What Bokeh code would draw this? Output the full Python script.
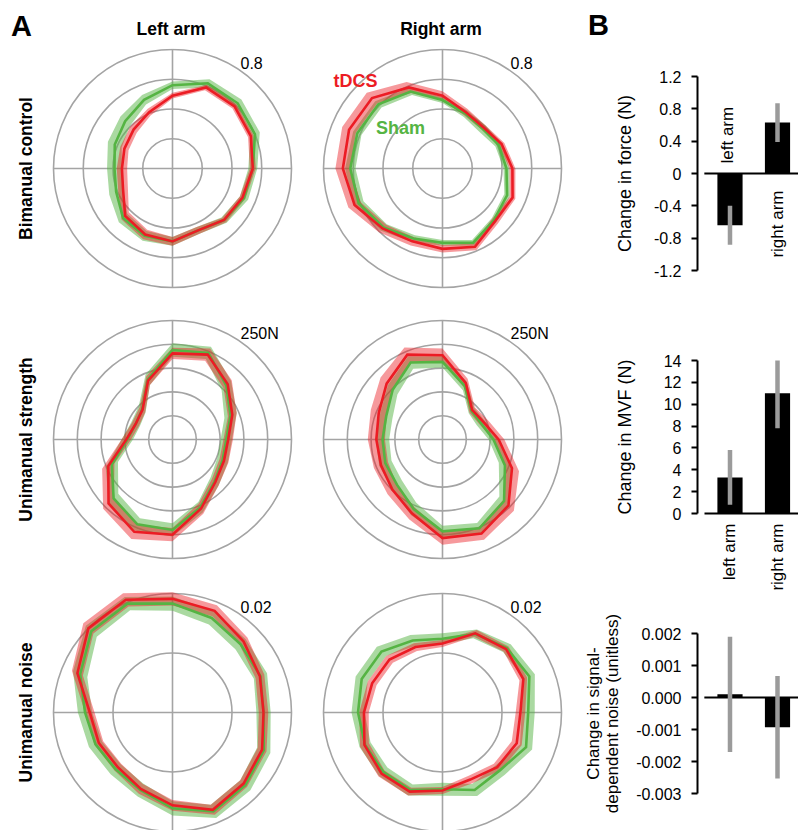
import numpy as np
from bokeh.plotting import figure
from bokeh.layouts import row, column
from bokeh.models import Range1d, FixedTicker
from bokeh.core.properties import value
from bokeh.embed import file_html
from bokeh.resources import INLINE

# ---------------- data ----------------
directions = [0, 22.5, 45, 67.5, 90, 112.5, 135, 157.5,
              180, 202.5, 225, 247.5, 270, 292.5, 315, 337.5]

arms = ["Left arm", "Right arm"]
tasks = ["Bimanual control", "Unimanual strength", "Unimanual noise"]
conditions = ["tDCS", "Sham"]
panel_letters = ["A", "B"]

rings_bimanual = [0.2, 0.4, 0.6, 0.8]
rings_strength = [50, 100, 150, 200, 250]
rings_noise = [0.01, 0.02]
ring_labels = ["0.8", "250N", "0.02"]

# Bimanual control (force, N)
bc_left_tdcs = [0.54, 0.57, 0.59, 0.59, 0.49, 0.41, 0.37, 0.35, 0.34, 0.36, 0.45, 0.48, 0.49, 0.45, 0.49, 0.51]
bc_left_tdcs_sem = [0.02, 0.02, 0.02, 0.02, 0.02, 0.025, 0.03, 0.03, 0.035, 0.035, 0.035, 0.035, 0.03, 0.025, 0.02, 0.02]
bc_left_sham = [0.54, 0.60, 0.62, 0.62, 0.56, 0.50, 0.45, 0.42, 0.39, 0.41, 0.47, 0.49, 0.49, 0.45, 0.49, 0.52]
bc_left_sham_sem = [0.03, 0.035, 0.035, 0.03, 0.025, 0.035, 0.045, 0.05, 0.05, 0.05, 0.04, 0.035, 0.03, 0.025, 0.025, 0.03]

bc_right_tdcs = [0.47, 0.43, 0.39, 0.41, 0.49, 0.59, 0.67, 0.68, 0.67, 0.64, 0.57, 0.53, 0.54, 0.57, 0.50, 0.51]
bc_right_tdcs_sem = [0.02, 0.02, 0.02, 0.025, 0.03, 0.04, 0.05, 0.05, 0.05, 0.045, 0.035, 0.03, 0.025, 0.025, 0.025, 0.02]
bc_right_sham = [0.43, 0.41, 0.38, 0.40, 0.46, 0.56, 0.61, 0.62, 0.62, 0.61, 0.56, 0.51, 0.50, 0.54, 0.49, 0.47]
bc_right_sham_sem = [0.02, 0.025, 0.03, 0.025, 0.02, 0.025, 0.03, 0.03, 0.035, 0.035, 0.03, 0.025, 0.02, 0.02, 0.02, 0.02]

# Unimanual strength (N)
us_left_tdcs = [117, 136, 164, 193, 181, 134, 89, 84, 97, 146, 190, 210, 200, 157, 127, 117]
us_left_tdcs_sem = [10, 10, 12, 14, 12, 10, 8, 8, 10, 14, 16, 16, 14, 12, 10, 10]
us_left_sham = [113, 132, 160, 197, 188, 136, 90, 84, 95, 138, 175, 193, 190, 154, 125, 114]
us_left_sham_sem = [12, 14, 14, 14, 14, 12, 10, 10, 12, 14, 14, 14, 14, 12, 12, 12]

us_right_tdcs = [118, 94, 88, 128, 177, 193, 166, 145, 139, 140, 149, 168, 207, 214, 196, 158]
us_right_tdcs_sem = [12, 10, 8, 10, 14, 16, 18, 18, 18, 16, 14, 14, 14, 14, 16, 16]
us_right_sham = [107, 88, 86, 122, 163, 175, 148, 128, 126, 130, 135, 158, 193, 202, 183, 142]
us_right_sham_sem = [10, 10, 8, 10, 12, 14, 14, 14, 14, 14, 14, 14, 12, 12, 14, 14]

# Unimanual noise
un_left_tdcs = [0.0153, 0.0159, 0.0169, 0.0185, 0.0191, 0.0205, 0.0200, 0.0173, 0.0139, 0.0134, 0.0130, 0.0139, 0.0156, 0.0177, 0.0169, 0.0163]
un_left_tdcs_sem = [0.0008, 0.0008, 0.0009, 0.0010, 0.0011, 0.0012, 0.0012, 0.0010, 0.0008, 0.0008, 0.0008, 0.0009, 0.0009, 0.0009, 0.0008, 0.0008]
un_left_sham = [0.0153, 0.0160, 0.0162, 0.0172, 0.0183, 0.0198, 0.0193, 0.0168, 0.0147, 0.0140, 0.0135, 0.0141, 0.0161, 0.0180, 0.0173, 0.0166]
un_left_sham_sem = [0.0012, 0.0012, 0.0012, 0.0012, 0.0012, 0.0012, 0.0013, 0.0013, 0.0012, 0.0012, 0.0012, 0.0012, 0.0012, 0.0012, 0.0012, 0.0012]

un_right_tdcs = [0.0131, 0.0147, 0.0151, 0.0144, 0.0116, 0.0119, 0.0126, 0.0128, 0.0132, 0.0142, 0.0145, 0.0144, 0.0131, 0.0122, 0.0130, 0.0135]
un_right_tdcs_sem = [0.0008, 0.0007, 0.0006, 0.0006, 0.0006, 0.0007, 0.0008, 0.0008, 0.0008, 0.0008, 0.0007, 0.0007, 0.0006, 0.0007, 0.0008, 0.0009]
un_right_sham = [0.0144, 0.0158, 0.0153, 0.0143, 0.0124, 0.0131, 0.0145, 0.0147, 0.0142, 0.0141, 0.0141, 0.0141, 0.0129, 0.0141, 0.0137, 0.0152]
un_right_sham_sem = [0.0011, 0.0010, 0.0009, 0.0008, 0.0009, 0.0010, 0.0011, 0.0011, 0.0011, 0.0010, 0.0010, 0.0010, 0.0011, 0.0011, 0.0011, 0.0011]

# Panel B
bar_categories = ["left arm", "right arm"]
force_change = [-0.64, 0.63]
force_err = [0.24, 0.24]
force_ticks = [-1.2, -0.8, -0.4, 0, 0.4, 0.8, 1.2]
force_tick_labels = ["-1.2", "-0.8", "-0.4", "0", "0.4", "0.8", "1.2"]

mvf_change = [3.3, 11.0]
mvf_err = [2.5, 3.2]
mvf_ticks = [0, 2, 4, 6, 8, 10, 12, 14]
mvf_tick_labels = ["0", "2", "4", "6", "8", "10", "12", "14"]

noise_change = [0.0001, -0.00093]
noise_err = [0.0018, 0.0016]
noise_ticks = [-0.003, -0.002, -0.001, 0.0, 0.001, 0.002]
noise_tick_labels = ["-0.003", "-0.002", "-0.001", "0.000", "0.001", "0.002"]

# ---------------- style / layout ----------------
FONT = "Liberation Sans"
GRID = "#a4a4a4"
RED = "#ec1c24"
GREEN = "#55b443"
ERR = "#9b9b9b"
PX_OUTER = 119                       # pixel radius of the outermost ring
HDR_H = 48                           # header strip height
COL_LR = [(172, 135), (135, 135)]    # px left / right of polar centre
ROW_TB = [(120, 135), (136, 136), (137, 118)]  # px above / below centre
BAR_W = 221
TOTAL_W = sum(l + r for l, r in COL_LR) + BAR_W
BAR_XR = (-0.684, 1.442)
ZERO_X0 = -0.54


def closed(v):
    return list(v) + [v[0]]


def polar_panel(rings, ring_label, tdcs, tdcs_sem, sham, sham_sem, col, r_i):
    left, right = COL_LR[col]
    top, bottom = ROW_TB[r_i]
    R = rings[-1]
    u = R / PX_OUTER
    p = figure(width=left + right, height=top + bottom,
               x_range=Range1d(-left * u, right * u),
               y_range=Range1d(-bottom * u, top * u),
               output_backend="svg", toolbar_location=None,
               x_axis_location=None, y_axis_location=None, min_border=0)
    p.grid.grid_line_color = None
    p.outline_line_color = None

    # polar grid
    p.circle(x=[0] * len(rings), y=[0] * len(rings), radius=rings,
             fill_color=None, line_color=GRID, line_width=1.6)
    p.segment(x0=[-R, 0], y0=[0, -R], x1=[R, 0], y1=[0, R],
              line_color=GRID, line_width=1.6)

    th = np.deg2rad(directions)
    for mean, sem, color, alpha in [(sham, sham_sem, GREEN, 0.5),
                                    (tdcs, tdcs_sem, RED, 0.45)]:
        m = np.asarray(mean, float)
        s = np.asarray(sem, float)
        ro, ri = m + s, m - s
        ox, oy = list(ro * np.cos(th)), list(ro * np.sin(th))
        ix, iy = list((ri * np.cos(th))[::-1]), list((ri * np.sin(th))[::-1])
        p.multi_polygons(xs=[[[ox, ix]]], ys=[[[oy, iy]]],
                         fill_color=color, fill_alpha=alpha, line_color=None)
    thc = np.deg2rad(closed(directions))
    for mean, color in [(sham, GREEN), (tdcs, RED)]:
        m = np.asarray(closed(mean), float)
        p.line(m * np.cos(thc), m * np.sin(thc), line_color=color,
               line_width=2.6, line_join="miter")

    p.text(x=[68 * u], y=[106 * u], text=[ring_label],
           text_font=value(FONT), text_font_size="16px",
           text_align="left", text_baseline="middle", text_color="black")

    if col == 0:
        p.text(x=[-146.5 * u], y=[0], text=[tasks[r_i]], angle=np.pi / 2,
               text_font=value(FONT), text_font_size="17.5px",
               text_font_style="bold", text_align="center",
               text_baseline="middle", text_color="black")
    if r_i == 0 and col == 1:
        p.text(x=[-87 * u, -42 * u], y=[88 * u, 41 * u], text=conditions,
               text_font=value(FONT), text_font_size="18px",
               text_font_style="bold", text_align="center",
               text_baseline="middle", text_color=[RED, GREEN])
    return p


def style_yaxis(p, ticks, tick_labels, label, label_size, standoff):
    ax = p.yaxis[0]
    ax.ticker = FixedTicker(ticks=ticks)
    ax.major_label_overrides = dict(zip(ticks, tick_labels))
    ax.axis_label = label
    ax.axis_label_text_font = FONT
    ax.axis_label_text_font_size = label_size
    ax.axis_label_text_font_style = "normal"
    ax.axis_label_text_color = "black"
    ax.axis_label_text_line_height = 1.0
    ax.axis_label_standoff = standoff
    ax.major_label_text_font = FONT
    ax.major_label_text_font_size = "16px"
    ax.major_label_text_color = "black"
    ax.major_label_standoff = 10
    ax.major_tick_out = 6
    ax.major_tick_in = 0
    ax.major_tick_line_width = 2
    ax.major_tick_line_color = "black"
    ax.minor_tick_out = 0
    ax.minor_tick_in = 0
    ax.axis_line_width = 2
    ax.axis_line_color = "black"


def bar_panel(values, errs, ticks, tick_labels, label, label_size, standoff,
              height, b_top, b_bottom, cat_mode):
    cats_on_axis = cat_mode == "axis"
    p = figure(width=BAR_W, height=height,
               x_range=Range1d(*BAR_XR), y_range=Range1d(ticks[0], ticks[-1]),
               output_backend="svg", toolbar_location=None,
               x_axis_location="below" if cats_on_axis else None,
               min_border_left=120, min_border_right=0,
               min_border_top=b_top, min_border_bottom=b_bottom)
    p.grid.grid_line_color = None
    p.outline_line_color = None
    idx = list(range(len(values)))
    if not cats_on_axis:
        p.segment(x0=[ZERO_X0], y0=[0], x1=[BAR_XR[1]], y1=[0],
                  line_color="black", line_width=2)
    p.vbar(x=idx, top=values, bottom=0, width=0.53,
           fill_color="black", line_color=None)
    lo = [v - e for v, e in zip(values, errs)]
    hi = [v + e for v, e in zip(values, errs)]
    p.segment(x0=idx, y0=lo, x1=idx, y1=hi, line_color=ERR,
              line_width=4.5, line_cap="butt")
    style_yaxis(p, ticks, tick_labels, label, label_size, standoff)
    if cats_on_axis:
        xa = p.xaxis[0]
        xa.ticker = FixedTicker(ticks=idx)
        xa.major_label_overrides = dict(zip(idx, bar_categories))
        xa.major_label_orientation = np.pi / 2
        xa.major_label_standoff = 10
        xa.major_label_text_font = FONT
        xa.major_label_text_font_size = "17px"
        xa.major_label_text_color = "black"
        xa.major_tick_out = 0
        xa.major_tick_in = 0
        xa.minor_tick_out = 0
        xa.minor_tick_in = 0
        xa.axis_line_width = 2
        xa.axis_line_color = "black"
        xa.bounds = (ZERO_X0, BAR_XR[1])
    elif cat_mode == "inside":
        for i, (cat, v) in enumerate(zip(bar_categories, values)):
            above = v < 0
            p.text(x=[i - 0.05 if above else i], y=[0], text=[cat],
                   angle=np.pi / 2, text_align="left" if above else "right",
                   text_baseline="middle", y_offset=-10 if above else 17,
                   text_font=value(FONT), text_font_size="17px",
                   text_color="black")
    return p


polar_data = [
    (rings_bimanual, ring_labels[0],
     [(bc_left_tdcs, bc_left_tdcs_sem, bc_left_sham, bc_left_sham_sem),
      (bc_right_tdcs, bc_right_tdcs_sem, bc_right_sham, bc_right_sham_sem)]),
    (rings_strength, ring_labels[1],
     [(us_left_tdcs, us_left_tdcs_sem, us_left_sham, us_left_sham_sem),
      (us_right_tdcs, us_right_tdcs_sem, us_right_sham, us_right_sham_sem)]),
    (rings_noise, ring_labels[2],
     [(un_left_tdcs, un_left_tdcs_sem, un_left_sham, un_left_sham_sem),
      (un_right_tdcs, un_right_tdcs_sem, un_right_sham, un_right_sham_sem)]),
]

cols = [[], []]
for r_i, (rings, rlab, arm_sets) in enumerate(polar_data):
    for c, (t, ts, s, ss) in enumerate(arm_sets):
        cols[c].append(polar_panel(rings, rlab, t, ts, s, ss, c, r_i))

# header strip (pixel coordinates, y up)
col_centres = [COL_LR[0][0], COL_LR[0][0] + COL_LR[0][1] + COL_LR[1][0]]
hdr = figure(width=TOTAL_W, height=HDR_H, x_range=Range1d(0, TOTAL_W),
             y_range=Range1d(0, HDR_H), output_backend="svg",
             toolbar_location=None, x_axis_location=None,
             y_axis_location=None, min_border=0)
hdr.grid.grid_line_color = None
hdr.outline_line_color = None
hdr.text(x=[21, 598], y=[HDR_H - 25, HDR_H - 24], text=panel_letters,
         text_font=value(FONT), text_font_size="29px", text_font_style="bold",
         text_align="center", text_baseline="middle", text_color="black")
hdr.text(x=[c - 1.5 for c in col_centres], y=[HDR_H - 28] * 2, text=arms,
         text_font=value(FONT), text_font_size="17.5px", text_font_style="bold",
         text_align="center", text_baseline="middle", text_color="black")

b1 = bar_panel(force_change, force_err, force_ticks, force_tick_labels,
               "Change in force (N)", "18px", 16, 262, 28, 40, "inside")
b2 = bar_panel(mvf_change, mvf_err, mvf_ticks, mvf_tick_labels,
               "Change in MVF (N)", "18px", 26, 298, 50, 95, "axis")
b3 = bar_panel(noise_change, noise_err, noise_ticks, noise_tick_labels,
               "Change in signal-\ndependent noise (unitless)", "17px", 11,
               222, 25, 37, "none")

layout = column(hdr, row(column(*cols[0]), column(*cols[1]),
                         column(b1, b2, b3)))

open("out.html", "w").write(file_html(layout, INLINE))
